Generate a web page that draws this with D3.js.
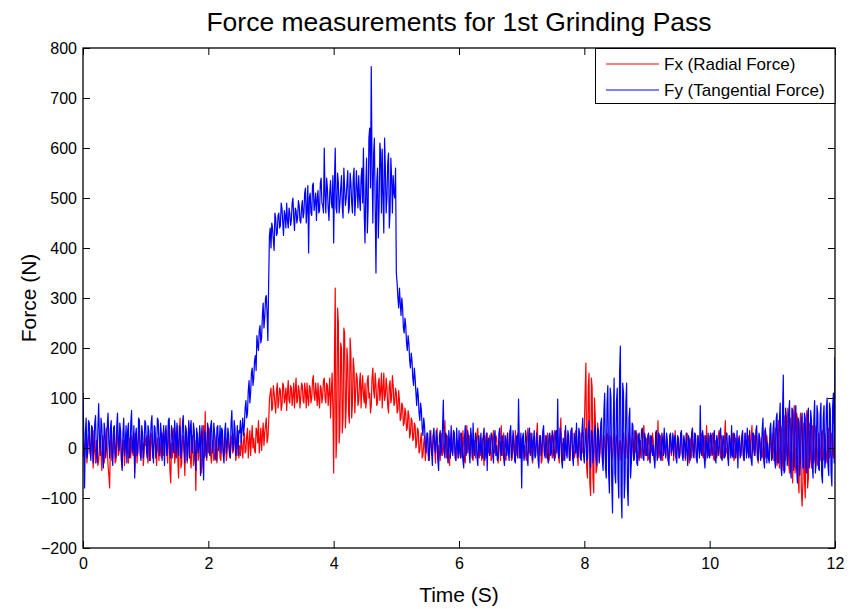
<!DOCTYPE html>
<html><head><meta charset="utf-8">
<script src="https://cdn.jsdelivr.net/npm/d3@7"></script>
<style>body{margin:0;background:#fff}svg{display:block}text{font-family:"Liberation Sans",Arial,Helvetica,sans-serif;fill:#000}</style>
</head><body><svg id="c" width="856" height="609"></svg>
<script>
const title = "Force measurements for 1st Grinding Pass";
const xLabel = "Time (S)";
const yLabel = "Force (N)";
const seriesNames = ["Fx (Radial Force)", "Fy (Tangential Force)"];
const seriesColors = ["#ff0000", "#0000ff"];
const xTicks = [0, 2, 4, 6, 8, 10, 12];
const yTicks = [-200, -100, 0, 100, 200, 300, 400, 500, 600, 700, 800];
const sampleStep = 0.0125; // seconds between merged samples

// Fx samples read at t = 0, 0.025, 0.05 ... 12
const fxA = [
10,-20,25,-5,30,-15,5,35,-30,10,-25,20,-45,15,-10,40,-35,-80,30,-20,
15,-25,35,-10,20,-40,10,-5,30,-30,5,25,-15,-50,20,0,35,-20,10,-10,
5,-15,25,-25,15,-5,30,-35,0,20,-20,10,-10,35,-30,15,-70,-20,40,-15,
45,-60,60,-30,20,-55,35,-10,15,-40,25,-20,-85,30,-15,20,-35,45,73,-25,
-10,40,-30,15,-20,25,-5,10,-25,30,-15,20,-10,5,-20,25,-5,15,-10,20,
5,25,-20,30,-5,40,10,-15,45,20,-10,35,55,15,-5,50,30,60,20,95,
120,80,110,70,130,95,115,85,125,100,75,135,90,120,105,80,140,95,115,100,
125,90,115,130,85,120,100,145,95,110,130,80,120,105,140,90,125,110,60,150,
-50,320,20,250,40,200,60,230,80,170,50,190,90,160,110,140,95,150,120,105,
130,95,145,110,85,160,100,125,90,140,115,80,150,105,120,70,135,100,125,90,
110,75,95,60,85,50,70,40,65,30,55,20,45,10,35,-5,30,-15,25,0,
20,-20,35,-10,15,-30,40,5,-25,25,-5,55,-20,10,-35,30,-10,20,-25,15,
-5,30,-20,10,-30,45,0,-15,25,-25,15,-5,40,-20,5,20,-35,10,30,-10,
15,-20,35,-5,20,-30,10,45,-15,5,-25,30,-10,20,-20,0,35,-15,25,-5,
-20,25,5,-25,40,-10,15,-30,20,-5,50,-15,10,-25,30,0,-20,15,-10,25,
-15,35,-5,20,-30,60,10,-20,30,-10,15,-25,40,5,-15,25,-35,10,30,-10,
40,170,-60,150,-95,120,-90,60,-40,30,-10,20,-30,15,-5,25,-20,10,-15,30,
-10,20,-25,15,-5,30,-20,10,-15,25,-30,5,35,-10,20,-25,15,-5,45,-15,
10,-20,25,-5,15,-30,20,55,-10,5,-25,30,-15,10,-20,25,0,-25,35,-10,
5,-15,30,-20,15,-5,25,-30,10,40,-10,20,-25,15,-5,30,-20,10,45,-15,
20,-10,30,-25,10,-5,35,-20,15,-15,55,0,-25,20,-10,30,-20,10,-5,25,
-15,15,-25,30,-5,20,-20,45,0,-15,25,-30,10,20,-10,35,-20,5,-25,30,
10,-25,40,-35,55,-20,30,-45,65,-10,80,-50,40,-70,85,-30,60,-90,70,-116,
50,-100,75,-60,40,-40,30,-20,45,-35,20,-10,35,-25,15,-30,40,-15,25,-20,
10];
// Fx samples read at t = 0.0125, 0.0375 ... 11.9875
const fxMid = [
-15,5,-30,20,-10,25,-40,-5,15,-35,5,-10,25,-30,20,-5,-55,10,-25,35,
-30,10,-15,30,-25,15,-35,25,-10,20,-20,-5,30,-10,-30,25,-15,5,-35,20,
25,-30,5,30,-20,15,-10,20,-25,-5,30,-15,20,-5,45,-45,10,25,-30,20,
-20,30,-40,25,-10,40,-30,50,-20,10,-35,15,0,-25,40,-50,20,-20,-10,35,
25,-15,5,-25,10,-30,20,-20,15,-10,5,-25,30,-15,10,-10,30,-25,15,-20,
-15,0,15,-10,25,-20,35,20,0,-5,40,10,-10,40,25,5,45,10,50,110,
75,125,90,115,80,120,75,130,90,120,110,95,125,85,130,115,90,125,80,130,
95,130,80,100,125,90,135,105,130,85,95,125,90,135,100,130,85,140,110,80,
180,-20,280,10,210,30,240,40,200,70,220,60,180,70,150,85,130,80,145,90,
80,135,100,70,140,115,150,85,130,95,150,120,95,140,85,125,90,145,85,120,
70,115,55,90,45,80,35,75,20,60,15,50,0,40,-10,20,-20,10,-25,20,
-25,10,-15,25,-5,20,-20,-10,30,-15,20,0,25,-25,15,-5,35,-20,10,-20,
20,-15,35,-25,15,-10,25,30,-20,5,-20,30,-15,25,-25,-10,25,-20,-5,25,
-25,20,-10,25,-15,15,-25,-10,30,-20,15,-5,35,-25,25,-15,-5,30,-20,20,
15,-20,-15,20,-5,30,-20,15,-15,25,-10,25,-30,20,-15,25,30,-25,20,-20,
25,-20,30,-15,25,-5,-25,35,-15,25,-20,30,-10,-20,35,-10,20,-20,-5,20,
110,-40,120,-70,140,-60,100,-50,50,-25,35,-20,25,-25,30,-10,25,-25,20,-20,
25,-20,10,-25,20,-10,25,-20,30,-10,20,-25,-5,30,-15,10,-20,25,-10,20,
-25,15,-10,30,-20,10,-15,-20,25,-15,20,-10,25,-25,15,-15,25,10,-20,20,
-20,25,-10,20,-25,30,-10,20,-20,-5,30,-20,25,-10,20,-15,25,-25,-10,25,
-15,25,-20,15,-20,25,-10,25,-20,20,-10,-20,25,-15,25,-25,20,-20,20,-15,
20,-20,20,-10,25,-15,20,-10,25,20,-20,25,-15,-20,25,-15,25,-20,15,-20,
30,-15,-20,25,-40,45,-30,40,-25,55,-35,60,-40,60,-50,70,-60,40,-80,-70,
-60,30,-80,50,-20,45,-30,35,-15,30,-25,30,-20,30,-20,25,-20,30,-10,25];

// Fy samples read at t = 0, 0.025, 0.05 ... 12
const fyA = [
110,-80,60,-10,50,-25,40,5,65,-30,89,-15,45,-40,35,0,70,-20,55,-35,
45,-20,70,-5,35,-45,60,10,-30,50,-15,75,0,-60,40,-10,55,-25,30,5,
50,-20,35,10,65,-30,40,-5,55,-15,30,20,-35,45,0,60,-20,35,-10,25,
50,-15,40,-5,65,-30,30,10,-20,55,-10,35,-45,25,5,-55,45,-64,30,-20,
40,-15,55,0,30,-25,45,10,-10,35,-30,50,5,25,-20,75,-5,40,10,-15,
30,10,60,45,95,70,135,110,160,140,185,225,195,245,220,290,260,305,215,425,
400,440,395,460,430,470,445,480,425,465,490,440,470,455,500,435,475,460,485,450,
495,470,520,480,390,510,465,530,490,455,515,475,540,485,600,470,520,455,535,480,
410,600,470,530,490,545,460,520,500,555,480,530,470,560,495,520,545,475,560,600,
410,580,480,640,763,450,620,350,560,480,590,598,430,560,500,590,470,540,545,500,
350,300,320,265,280,230,245,195,210,160,175,125,140,85,105,55,75,25,45,-10,
30,-25,15,-35,40,-10,20,-45,35,0,96,-20,25,-30,10,45,-15,30,-25,5,
35,-20,10,-40,45,-5,25,-30,15,50,-15,20,-35,5,30,-20,40,-10,-45,20,
-10,25,-30,35,5,-20,40,-15,20,-35,10,30,-25,45,-5,15,-30,25,98,-20,
-80,30,-10,20,-35,40,5,-25,35,-15,10,-40,25,0,45,-20,15,-30,30,-10,
20,-25,35,98,-15,30,-40,10,45,-20,25,-5,40,-35,15,50,-15,30,-25,60,
-30,40,-20,55,-40,30,-10,45,-35,35,5,60,-45,110,-60,125,-90,100,-130,140,
-70,120,-100,204,-140,110,-60,130,-115,80,-30,45,-20,35,-35,30,0,40,-25,20,
-15,30,-30,20,5,-40,35,-10,25,-25,15,40,-20,10,-35,30,0,-15,25,-30,
20,-10,35,-25,10,30,-35,15,-5,40,-20,25,-30,5,85,-15,20,-40,10,30,
-20,25,-10,35,-30,15,0,40,-25,20,-15,30,-35,10,45,-20,25,-5,-40,20,
-10,35,-25,15,40,-20,5,-35,30,-5,45,-25,20,-15,60,-40,25,10,-30,50,
-20,55,-40,70,-30,90,-55,146,-45,60,-20,95,-60,75,-35,85,-70,50,-25,70,
-40,60,-50,80,-20,55,-60,95,-30,70,-45,90,-70,85,-25,100,-55,75,-76,110,
182];
// Fy samples read at t = 0.0125, 0.0375 ... 11.9875
const fyMid = [
20,30,-20,55,-5,45,-30,50,-10,40,20,60,-10,50,-20,45,10,40,-15,40,
-10,40,15,50,-20,30,-15,45,35,-20,50,-10,45,25,-15,60,-5,45,-20,55,
-5,45,-25,50,-10,45,-20,60,5,50,-25,45,30,-15,55,-10,45,-5,55,-20,
5,45,-20,50,0,45,-25,55,40,-5,50,-15,40,-10,45,20,-20,35,-15,50,
-5,45,-10,50,-20,40,-5,45,40,-15,35,-10,40,-5,50,10,55,-15,45,35,
55,40,25,80,60,115,90,150,125,175,155,205,235,210,265,240,300,270,330,440,
450,415,470,425,465,440,490,450,475,440,455,480,445,490,460,480,450,495,455,480,
460,510,450,525,500,470,525,475,510,500,470,530,490,470,505,540,480,510,490,545,
530,480,550,470,520,480,560,485,530,470,550,490,540,465,555,480,500,540,490,470,
520,430,620,520,560,590,480,530,420,610,470,500,620,470,570,440,580,470,510,560,
330,280,290,300,240,260,210,225,175,190,140,160,110,120,70,90,40,60,10,30,
-15,35,-5,25,5,35,-25,25,-15,40,-5,30,-10,35,-20,-5,35,-10,40,-20,
-10,30,-25,20,-15,35,-10,40,-20,-5,30,-20,25,-15,-10,25,-25,30,15,-15,
30,-5,20,-15,-25,30,-5,25,-20,25,-15,-10,30,-20,35,-25,20,-20,10,30,
20,-25,35,-20,25,-15,30,15,-20,30,-25,20,-15,35,-10,25,-20,25,-15,35,
-15,30,-10,-20,40,-25,20,-25,-5,35,-25,35,-20,30,-10,-20,40,-20,35,-15,
25,-25,30,-15,35,-30,35,-20,40,-30,50,-25,75,-40,90,-50,120,-70,60,-50,
90,-60,150,-90,130,-100,90,-80,60,-60,50,-25,30,-30,25,-20,35,-20,30,-15,
25,-20,25,-15,-20,30,-25,30,-20,30,-15,-5,30,-25,25,-10,30,20,-20,25,
-20,30,-15,25,-20,-5,25,-25,30,-15,30,-20,25,-20,-10,35,-20,25,-20,-15,
30,-15,25,-20,25,-15,30,-20,25,-20,30,-10,25,-20,-15,30,-20,35,15,-20,
25,-15,30,-20,-10,35,-25,30,-15,35,-20,30,-25,35,-25,40,-30,-20,40,-25,
40,-25,60,-30,55,-40,70,-50,80,-35,70,-40,80,-45,65,-40,60,-55,55,-40,
70,-45,65,-40,75,-35,60,-50,85,-40,65,-55,60,-40,80,-35,90,-50,85,-30];

// merge the two sets of readings in time order
const mergeReadings = (a, b) => d3.merge(a.map((v, i) => i < b.length ? [v, b[i]] : [v]));
const fx = mergeReadings(fxA, fxMid);
const fy = mergeReadings(fyA, fyMid);
const series = [fx, fy];

const W = 856, H = 609;
const m = {left: 83, right: 21, top: 48, bottom: 61};
const svg = d3.select("#c");
const x = d3.scaleLinear().domain([0, 12]).range([m.left, W - m.right]);
const y = d3.scaleLinear().domain([-200, 800]).range([H - m.bottom, m.top]);

svg.append("rect").attr("width", W).attr("height", H).attr("fill", "#fff");

svg.append("defs").append("clipPath").attr("id", "clip")
  .append("rect").attr("x", m.left).attr("y", m.top)
  .attr("width", W - m.left - m.right).attr("height", H - m.top - m.bottom);

const line = d3.line().x((d, i) => x(i * sampleStep)).y(d => y(d));
const plot = svg.append("g").attr("clip-path", "url(#clip)");
series.forEach((s, k) => {
  plot.append("path").datum(s).attr("d", line)
    .attr("fill", "none").attr("stroke", seriesColors[k])
    .attr("stroke-width", 1.2).attr("stroke-linejoin", "round");
});

const tk = 7;
const fs = "16px";
const gB = svg.append("g").attr("transform", `translate(0,${H - m.bottom})`)
  .call(d3.axisBottom(x).tickValues(xTicks).tickSizeInner(-tk).tickSizeOuter(0).tickPadding(10).tickFormat(d3.format("d")));
const gL = svg.append("g").attr("transform", `translate(${m.left},0)`)
  .call(d3.axisLeft(y).tickValues(yTicks).tickSizeInner(-tk).tickSizeOuter(0).tickPadding(6).tickFormat(d3.format("d")));
const gT = svg.append("g").attr("transform", `translate(0,${m.top})`)
  .call(d3.axisTop(x).tickValues(xTicks).tickSizeInner(-tk).tickSizeOuter(0).tickFormat(""));
const gR = svg.append("g").attr("transform", `translate(${W - m.right},0)`)
  .call(d3.axisRight(y).tickValues(yTicks).tickSizeInner(-tk).tickSizeOuter(0).tickFormat(""));
[gB, gL, gT, gR].forEach(g => {
  g.select(".domain").remove();
  g.selectAll("line").attr("stroke", "#000").attr("stroke-width", 1);
  g.selectAll("text").attr("font-size", fs).attr("font-family", null).attr("fill", "#000");
});
gB.selectAll("text").attr("dy", "0.71em");

svg.append("rect").attr("x", m.left).attr("y", m.top)
  .attr("width", W - m.left - m.right).attr("height", H - m.top - m.bottom)
  .attr("fill", "none").attr("stroke", "#000").attr("stroke-width", 1.3);

// legend
const lg = svg.append("g");
lg.append("rect").attr("x", 595.5).attr("y", 48.5).attr("width", W - m.right - 595.5).attr("height", 55)
  .attr("fill", "#fff").attr("stroke", "#000").attr("stroke-width", 1);
seriesNames.forEach((nm, k) => {
  const yy = 64 + k * 26;
  lg.append("line").attr("x1", 606).attr("x2", 659).attr("y1", yy).attr("y2", yy)
    .attr("stroke", seriesColors[k]).attr("stroke-width", 1);
  lg.append("text").attr("x", 664).attr("y", yy).attr("dy", "0.35em")
    .attr("font-size", "17px").text(nm);
});

svg.append("text").attr("x", (m.left + W - m.right) / 2).attr("y", 31)
  .attr("text-anchor", "middle").attr("font-size", "26.5px").text(title);
svg.append("text").attr("x", (m.left + W - m.right) / 2).attr("y", 602)
  .attr("text-anchor", "middle").attr("font-size", "21px").text(xLabel);
svg.append("text").attr("transform", `translate(36,${(m.top + H - m.bottom) / 2}) rotate(-90)`)
  .attr("text-anchor", "middle").attr("font-size", "21px").text(yLabel);
</script>
</body></html>
